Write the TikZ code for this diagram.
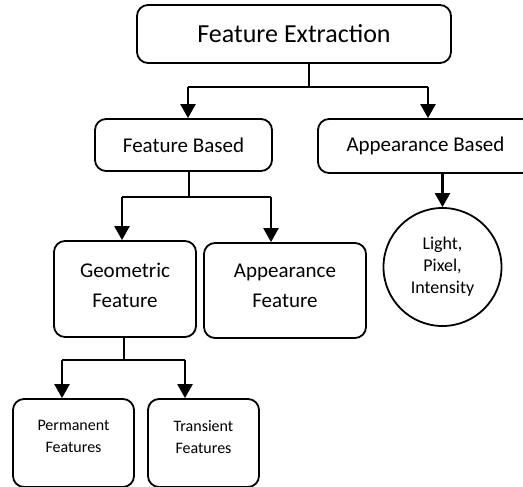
\documentclass[tikz,border=0pt]{standalone}
\usepackage{fontspec}
\setmainfont{Carlito}
\usetikzlibrary{arrows.meta}

\begin{document}
\begin{tikzpicture}[x=1pt, y=-1pt,
    box/.style={draw, line width=1.8pt, rounded corners=11pt, align=center, inner sep=0pt},
    line/.style={line width=2.4pt},
    arr/.style={line width=2.4pt, -{Triangle[width=15pt,length=14pt]}}]
    \useasboundingbox (0,0) rectangle (523,487);

    % Nodes
    \node[box, minimum width=314pt, minimum height=58pt, font=\fontsize{26}{30}\selectfont] (FE) at (294,34) {Feature Extraction};
    \node[box, minimum width=177pt, minimum height=52pt, font=\fontsize{21}{28}\selectfont] (FB) at (183.5,145) {Feature Based};
    \node[box, minimum width=215pt, minimum height=54pt, font=\fontsize{21}{28}\selectfont] (AB) at (425.5,146) {Appearance Based};
    \node[box, minimum width=142pt, minimum height=96pt, text depth=8pt, font=\fontsize{21}{30}\selectfont] (GF) at (125,289) {Geometric\\Feature};
    \node[box, minimum width=162pt, minimum height=95pt, text depth=10pt, font=\fontsize{21}{30}\selectfont] (AF) at (285,290.5) {Appearance\\Feature};
    \node[box, minimum width=121pt, minimum height=88pt, text depth=13pt, font=\fontsize{16}{22}\selectfont] (PF) at (73.5,443) {Permanent\\Features};
    \node[box, minimum width=111pt, minimum height=88pt, text depth=13pt, font=\fontsize{16}{22}\selectfont] (TF) at (203.5,443) {Transient\\Features};
    \node[draw, circle, line width=1.8pt, minimum size=118pt, inner sep=0pt, align=center, font=\fontsize{18}{22}\selectfont] (LPI) at (442.5,267) {Light,\\Pixel,\\Intensity};

    % Lines
    \coordinate (FEsplit) at (309,87);
    \coordinate (FEl) at (188,87);
    \coordinate (FEr) at (428,87);
    \draw[line] (FE.south -| FEsplit) -- (FEsplit);
    \draw[line] (FEl) -- (FEr);
    \draw[arr] (FEl) -- (FEl |- FB.north);
    \draw[arr] (FEr) -- (FEr |- AB.north);

    \coordinate (FBsplit) at (189,197);
    \coordinate (FBl) at (122,197);
    \coordinate (FBr) at (271,197);
    \draw[line] (FB.south -| FBsplit) -- (FBsplit);
    \draw[line] (FBl) -- (FBr);
    \draw[arr] (FBl) -- (FBl |- GF.north);
    \draw[arr] (FBr) -- (FBr |- AF.north);

    \coordinate (ABdown) at (442.5,173);
    \draw[arr] (ABdown) -- (LPI.north);

    \coordinate (GFsplit) at (124,360);
    \coordinate (GFl) at (62,360);
    \coordinate (GFr) at (185,360);
    \draw[line] (GF.south -| GFsplit) -- (GFsplit);
    \draw[line] (GFl) -- (GFr);
    \draw[arr] (GFl) -- (GFl |- PF.north);
    \draw[arr] (GFr) -- (GFr |- TF.north);

\end{tikzpicture}
\end{document}
